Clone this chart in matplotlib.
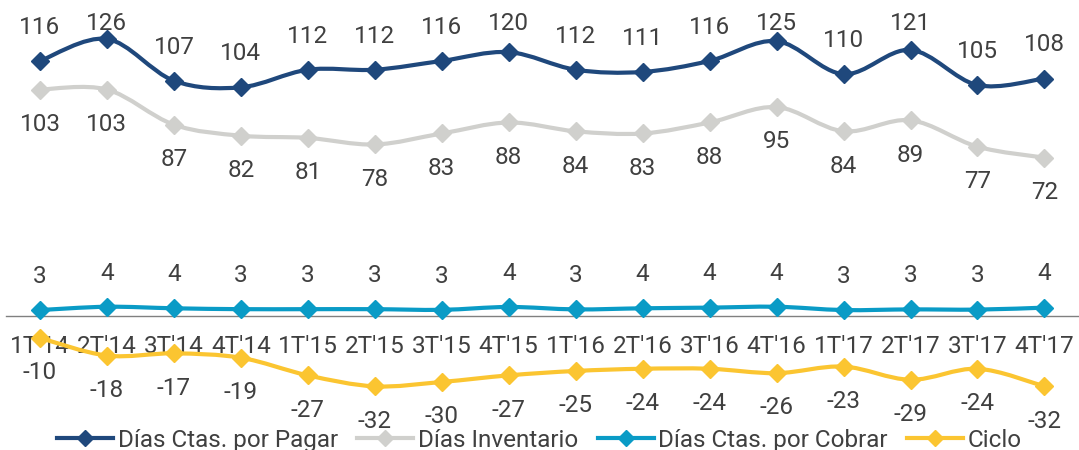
import numpy as np
import matplotlib.pyplot as plt
from matplotlib.path import Path
from matplotlib.patches import PathPatch
from matplotlib.lines import Line2D

plt.rcParams['font.family'] = ['Roboto', 'DejaVu Sans']

quarters = ["1T'14", "2T'14", "3T'14", "4T'14", "1T'15", "2T'15", "3T'15", "4T'15",
            "1T'16", "2T'16", "3T'16", "4T'16", "1T'17", "2T'17", "3T'17", "4T'17"]
pagar = [116, 126, 107, 104, 112, 112, 116, 120, 112, 111, 116, 125, 110, 121, 105, 108]
inventario = [103, 103, 87, 82, 81, 78, 83, 88, 84, 83, 88, 95, 84, 89, 77, 72]
cobrar = [2.7, 4.2, 3.5, 3.1, 3.1, 3.1, 2.8, 4.1, 3.0, 3.5, 3.8, 4.2, 2.7, 3.0, 2.9, 3.8]
ciclo = [-10, -18, -17, -19, -27, -32, -30, -27, -25, -24, -24, -26, -23, -29, -24, -32]

series = [
    ('Días Ctas. por Pagar', pagar, '#1f487c', 1),
    ('Días Inventario', inventario, '#d0d0cd', -1),
    ('Días Ctas. por Cobrar', cobrar, '#0a9bc6', 1),
    ('Ciclo', ciclo, '#fbc531', -1),
]
text_color = '#404040'
fs = 17.5


def smooth_path(x, y):
    # excel-like smoothed line: cubic bezier segments through every point
    pts = np.column_stack([x, y]).astype(float)
    n = len(pts)
    verts = [pts[0]]
    codes = [Path.MOVETO]
    for i in range(n - 1):
        p0 = pts[i - 1] if i > 0 else pts[i]
        p1 = pts[i]
        p2 = pts[i + 1]
        p3 = pts[i + 2] if i + 2 < n else pts[i + 1]
        c1 = p1 + (p2 - p0) / 6
        c2 = p2 - (p3 - p1) / 6
        verts += [c1, c2, p2]
        codes += [Path.CURVE4] * 3
    return Path(verts, codes)


fig = plt.figure(figsize=(10.79, 4.5), dpi=100)
ax = fig.add_axes([0.006, 0.0667, 0.993, 0.922])
x = np.arange(len(quarters))
ymin, ymax = -47.3, 141.4

handles = []
for name, vals, color, side in series:
    ax.add_patch(PathPatch(smooth_path(x, vals), facecolor='none', edgecolor=color,
                           lw=3, capstyle='round', zorder=2))
    ax.plot(x, vals, ls='none', marker='D', ms=9, color=color, zorder=3)
    for xi, v in zip(x, vals):
        off = 15.3 if side > 0 else 15.8
        ly = min(v + off * side, ymax - 8.6)  # labels near the top are kept inside
        ax.text(xi, ly, f'{v:.0f}', ha='center', va='center', fontsize=fs, color=text_color)
    handles.append(Line2D([], [], color=color, lw=3, marker='D', ms=8))

for s in ax.spines.values():
    s.set_visible(False)
ax.spines['bottom'].set_visible(True)
ax.spines['bottom'].set_position(('data', 0))
ax.spines['bottom'].set_color('#808080')
ax.spines['bottom'].set_linewidth(1)
ax.spines['bottom'].set_zorder(1)

ax.set_xlim(-0.5, len(quarters) - 0.5)
ax.set_ylim(ymin, ymax)
ax.set_xticks(x)
ax.set_xticklabels(quarters, fontsize=fs, color=text_color)
ax.tick_params(axis='x', length=0, pad=14)
for lbl in ax.get_xticklabels():
    lbl.set_zorder(4)
ax.set_yticks([])

fig.legend(handles, [s[0] for s in series], loc='lower center', bbox_to_anchor=(0.5, -0.052),
           ncol=4, frameon=False, fontsize=fs, handlelength=2.3, handletextpad=0.2,
           columnspacing=0.8, labelcolor=text_color)

fig.savefig('out.png', dpi=100)
